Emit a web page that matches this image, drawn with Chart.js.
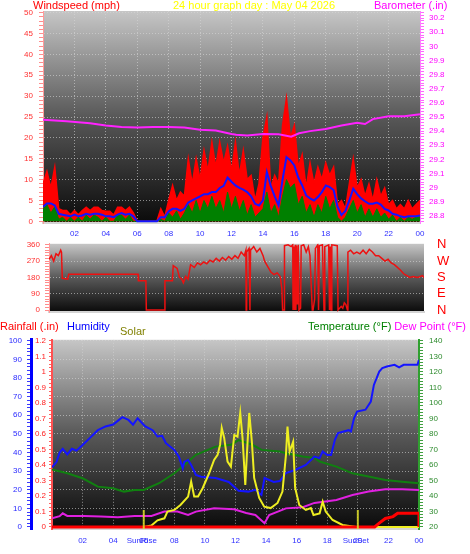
<!DOCTYPE html>
<html lang="en">
<head>
<meta charset="utf-8">
<title>24 hour graph</title>
<script src="https://cdn.jsdelivr.net/npm/chart.js@4.4.1/dist/chart.umd.min.js"></script>
<style>
  html, body { margin: 0; padding: 0; background: #ffffff; }
  body { position: relative; width: 470px; height: 554px; overflow: hidden; font-family: "Liberation Sans", Arial, sans-serif; }
  .panel { position: absolute; left: 0; width: 470px; }
  .title { position: absolute; font-size: 11px; line-height: 11px; white-space: nowrap; z-index: 2; }
</style>
</head>
<body>
<div class="panel" style="top:0;height:240px"><canvas id="wind-chart"></canvas></div>
<div class="panel" style="top:234px;height:88px"><canvas id="dir-chart"></canvas></div>
<div class="panel" style="top:329px;height:225px"><canvas id="weather-chart"></canvas></div>

<div class="title" style="left:33px;top:0;color:#ff0000">Windspeed (mph)</div>
<div class="title" style="left:173px;top:0;color:#ffff00">24 hour graph day : May 04 2026</div>
<div class="title" style="left:374px;top:0;color:#ff00ff">Barometer (.in)</div>
<div class="title" style="left:0;top:321px;color:#ff0000">Rainfall (.in)</div>
<div class="title" style="left:67px;top:321px;color:#0000ff">Humidity</div>
<div class="title" style="left:120px;top:326px;color:#808000">Solar</div>
<div class="title" style="right:4px;top:321px;color:#008000">Temperature (°F) <span style="color:#ff00ff">Dew Point (°F)</span></div>

<script>
// ---- data ----

// x axis
const hourTicks = [0, 2, 4, 6, 8, 10, 12, 14, 16, 18, 20, 22, 24];
const hourLabels = ['', '02', '04', '06', '08', '10', '12', '14', '16', '18', '20', '22', '00'];

// wind, one sample every 15 minutes from 00:00 to 24:00
const gustMph = [
    9, 12, 8, 13, 3, 2.6, 2.6, 1.6, 2.6, 1.6, 2.6, 3.4, 2.6, 3.4, 3.4, 2.6,
    2.4, 2.4, 1.5, 3.4, 3.4, 2.6, 3.4, 2, 0, 0, 0, 0, 0, 0, 3, 1,
    5, 8.6, 5, 7, 6, 15, 9, 15, 10, 17, 12, 19, 13, 19, 14, 18,
    12, 19, 11, 17, 10, 11, 5, 9, 20, 25, 8, 11, 9, 23, 29.5, 20,
    23, 13, 16, 8, 14, 9, 13, 10, 14, 11, 13, 4, 5, 3, 9, 15,
    8, 10, 6, 9, 5, 10, 6, 8, 4, 5, 3, 4, 3, 5, 3, 4, 5
];
const avgMph = [
    3.5, 4.3, 4.3, 3.8, 1.8, 1.6, 1.4, 1.2, 1.6, 1.2, 1.4, 1.8, 1.6, 1.8, 1.8, 1.6,
    1.2, 1.2, 1, 1.6, 2, 1.6, 1.8, 1.2, 0, 0, 0, 0, 0, 0, 1, 1,
    2.4, 3, 3, 2.5, 3, 4.5, 5, 5.5, 6, 6.5, 6.5, 7, 7, 8, 8.5, 10.5,
    9.5, 8.6, 8, 7.6, 7, 6, 4.2, 3.8, 5, 11.8, 8.5, 6, 3.8, 10, 15.4, 14.6,
    13.4, 10.5, 8.6, 6.2, 5.5, 5, 5.8, 7, 8.6, 8.2, 7.5, 3.5, 1.5, 2.5, 5, 7.8,
    6.5, 5.5, 4.8, 4.2, 4.2, 4.5, 4, 3, 2.6, 1.8, 1.6, 1.2, 1, 1.2, 1.2, 1.2, 1.4
];
const windMph = [
    3, 4, 2, 3.5, 0.5, 1, 0, 1, 0, 1, 0, 1.5, 0.5, 1.5, 1, 0,
    1, 0, 0, 1.5, 1.5, 0.5, 1.5, 0, 0, 0, 0, 0, 0, 0, 0.5, 0,
    2, 1, 2.5, 0.5, 2, 4, 2, 5, 2, 5, 3, 6, 3, 5, 2, 7,
    3, 6, 2.5, 5, 1.5, 4, 1, 2, 3, 7, 2, 4, 1, 6, 10, 8,
    9, 4, 6, 2, 4, 1, 4, 2, 6, 3, 5, 1, 0, 1, 3, 5,
    2, 4, 1, 3, 1, 3, 1, 2, 0.5, 1.5, 0, 1, 0, 1, 0.5, 1, 1
];
const windTimes = gustMph.map((_, i) => i * 0.25);

// barometer
const baroHours = [0, 1.5, 3, 4, 5, 6, 7, 8, 9, 10, 11, 12, 12.3, 13, 14, 15, 15.8, 16.3, 17, 18, 19, 20, 20.5, 21, 22, 23, 24];
const baroInches = [29.48, 29.47, 29.455, 29.44, 29.43, 29.425, 29.43, 29.43, 29.425, 29.41, 29.405, 29.38, 29.375, 29.37,
    29.38, 29.378, 29.36, 29.385, 29.4, 29.415, 29.44, 29.46, 29.45, 29.485, 29.505, 29.505, 29.52];

// wind direction
const dirHours = [0, 0.15, 0.3, 0.45, 0.6, 0.75, 0.8, 0.85, 1.2, 1.26, 5.7, 5.72, 6.2, 6.23, 7.4, 7.42, 7.9, 7.95,
    8.2, 8.35, 8.5, 8.6, 8.75, 8.9, 9.06, 9.3, 9.5, 9.7, 9.9, 10.1, 10.3, 10.5, 10.7, 10.9, 11.1, 11.3, 11.5, 11.7,
    11.9, 12.1, 12.3, 12.5, 12.6, 12.62, 12.65, 12.8, 12.86, 12.9, 13.1, 13.3, 13.5, 13.7, 13.8, 14, 14.2, 14.4,
    14.6, 14.8, 14.9, 14.95, 15.05, 15.07, 15.3, 15.5, 15.6, 15.62, 15.68, 15.72, 15.76, 15.8, 15.84, 15.9, 15.95,
    16, 16.1, 16.14, 16.3, 16.46, 16.6, 16.7, 16.85, 16.9, 17, 17.05, 17.2, 17.25, 17.3, 17.5, 17.6, 17.65, 17.9,
    17.95, 18, 18.05, 18.1, 18.45, 18.5, 18.7, 18.8, 18.9, 19, 19.1, 19.13, 19.3, 19.5, 19.7, 19.9, 20.1, 20.3,
    20.5, 20.7, 20.9, 21.1, 21.3, 21.5, 21.7, 21.9, 22.1, 22.3, 22.5, 22.7, 22.9, 23.1, 23.3, 23.6, 23.9, 24];
const dirDegrees = [280, 300, 270, 310, 300, 330, 320, 175, 170, 197, 197, 162, 162, 0, 0, 162, 162, 245,
    230, 180, 170, 150, 185, 170, 250, 235, 260, 250, 265, 255, 275, 265, 285, 270, 290, 275, 295, 280,
    300, 285, 320, 300, 330, 0, 320, 340, 0, 330, 350, 320, 340, 300, 270, 240, 210, 195,
    205, 185, 120, 0, 0, 355, 360, 350, 360, 0, 350, 0, 360, 0, 355, 30, 360,
    0, 10, 355, 360, 320, 350, 300, 0, 0, 60, 340, 360, 0, 355, 360, 0, 350, 360,
    0, 350, 0, 360, 355, 0, 20, 10, 40, 30, 0, 320, 330, 310, 320, 310, 330, 310,
    335, 320, 300, 300, 285, 270, 280, 260, 250, 235, 220, 200, 190, 180, 185, 180, 190, 180];
const compassTicks = [0, 90, 180, 270, 360];
const compassLabels = ['N', 'E', 'S', 'W', 'N'];

// humidity, temperature, dew point, solar, rain
const humHours = [0, 0.3, 0.5, 0.7, 1, 1.3, 1.6, 2, 2.5, 3, 3.5, 4, 4.3, 4.6, 5, 5.3, 5.6, 5.9, 6.1, 6.58,
    6.9, 7.2, 7.45, 8, 8.3, 8.55, 8.65, 8.9, 9.1, 9.41, 9.75, 10.7, 11.56, 12.2, 12.85, 13.3, 13.7, 13.9, 14.5, 14.9,
    15.3, 15.9, 16.6, 17.16, 17.5, 17.7, 18, 18.25, 18.5, 18.7, 19.4, 19.55, 19.75, 19.95, 20.5, 20.85, 21.05, 21.4, 21.6, 21.9,
    22.4, 22.7, 23, 23.9, 24];
const humPercent = [32, 35, 40, 42, 39, 42, 41, 44, 48, 52, 54, 55, 57, 59, 57.5, 55, 58.4, 55.7, 54, 52,
    48.6, 49, 45, 41.4, 37.8, 31.5, 35, 36, 33.3, 28, 27, 26.3, 24.2, 19.5, 19, 20, 17.2, 26.3, 24.2, 24.7,
    29, 30.6, 33.3, 37.8, 37, 40.5, 38.7, 38.7, 46.8, 50.4, 52, 51.3, 58.4, 62, 63, 67.4, 76.3, 83.5, 85.3, 86.2,
    87.1, 85.7, 87.1, 87.1, 89.8];

const tempHours = [0, 1, 2, 3, 4, 4.7, 5.4, 6, 7, 8, 8.65, 9.41, 10.7, 11.7, 12.2, 13.1, 13.7, 14.9, 15.3, 16.4,
    17.16, 17.5, 18.6, 19.65, 20.7, 21.8, 22.9, 24];
const tempF = [57, 54.6, 51.4, 46, 45, 42.8, 43.9, 43.9, 48.2, 54.6, 60, 66.5, 71.8, 73, 76, 73, 69.7, 68.6, 67.5, 65.4,
    64.5, 62.2, 58.9, 54.6, 52.5, 50.3, 49.2, 48.2];

const dewHours = [0, 0.5, 0.7, 1, 2.1, 3.2, 4.3, 5.4, 6.5, 7.35, 8.2, 8.9, 9.41, 10.6, 11.9, 12.7, 13.3, 13.9, 14.2, 15.3,
    16.4, 17.16, 18.6, 19.65, 20.7, 21.8, 22.9, 24];
const dewF = [25.6, 27, 28.8, 27.1, 27.1, 26.7, 26.2, 27.1, 27.1, 29.9, 29.9, 27.7, 29.9, 32, 31.4, 29, 27.7, 22.4, 27.7, 32,
    32.7, 35.5, 37.4, 40.6, 42.8, 44.3, 44.3, 43.9];

const solarHours = [0, 6, 6.5, 6.9, 7.35, 7.55, 8, 8.4, 8.9, 9.1, 9.3, 9.55, 9.85, 10.28, 10.6, 10.83, 10.99, 11.1, 11.26, 11.48,
    11.7, 11.92, 12.13, 12.31, 12.46, 12.64, 12.79, 12.9, 13.07, 13.22, 13.55, 13.88, 14.3, 14.75, 15.07, 15.3, 15.4, 15.54, 15.77, 15.9,
    16.17, 16.6, 16.93, 17.1, 17.5, 17.7, 17.9, 18.35, 19, 19.9, 24];
const solarWm2 = [0, 0, 10, 43, 56, 99, 110, 142, 196, 293, 196, 196, 250, 348, 432, 465, 529, 639, 574, 421,
    389, 593, 582, 735, 574, 271, 550, 735, 550, 316, 187, 131, 122, 155, 228, 465, 647, 486, 550, 252,
    142, 110, 122, 77, 88, 163, 99, 45, 13, 0, 0];

const rainHours = [0, 21.1, 21.4, 21.8, 22.3, 22.6, 24, 24];
const rainInches = [0, 0, 0.025, 0.055, 0.067, 0.088, 0.088, 0];

const sunriseHour = 6;
const sunsetHour = 20;

// ---- helpers ----
const GRID = 'rgba(215, 215, 215, 0.6)';
const TICK_FONT = { family: '"Liberation Sans", Arial, sans-serif', size: 8 };

const pts = (xs, ys) => xs.map((x, i) => ({ x: x, y: ys[i] }));
const isMultiple = (v, m) => Math.abs(v / m - Math.round(v / m)) < 1e-6;

function stepTicks(from, to, step) {
    const ticks = [];
    for (let v = from; v <= to + step / 100; v += step) {
        ticks.push({ value: Math.round(v * 1000) / 1000 });
    }
    return ticks;
}

// dark-to-light plot background, like the original station graph
Chart.register({
    id: 'plotBackground',
    beforeDraw(chart) {
        const { ctx, chartArea: a } = chart;
        const g = ctx.createLinearGradient(0, a.top, 0, a.bottom);
        g.addColorStop(0, '#c6c6c6');
        g.addColorStop(0.5, '#585858');
        g.addColorStop(1, '#0a0a0a');
        ctx.save();
        ctx.fillStyle = g;
        ctx.fillRect(a.left, a.top, a.right - a.left, a.bottom - a.top);
        ctx.restore();
    }
});

Chart.defaults.animation = false;
Chart.defaults.events = [];
Chart.defaults.maintainAspectRatio = false;
Chart.defaults.elements.point.radius = 0;
Chart.defaults.elements.line.tension = 0;
Chart.defaults.plugins.legend.display = false;
Chart.defaults.plugins.tooltip.enabled = false;

function hourAxis(height, padding, showLabels) {
    return {
        type: 'linear',
        min: 0,
        max: 24,
        afterBuildTicks: s => { s.ticks = hourTicks.map(v => ({ value: v })); },
        afterFit: s => { s.height = height; },
        grid: { display: showLabels, color: GRID, drawTicks: false },
        border: { color: '#d4d4d4', width: 2, dash: [1, 2] },
        ticks: {
            display: showLabels,
            color: '#3030ff',
            font: TICK_FONT,
            padding: padding,
            maxRotation: 0,
            autoSkip: false,
            callback: (v, i) => hourLabels[i]
        }
    };
}

/**
 * Wind speed + barometer
 */
function renderWindChart() {
    new Chart(document.getElementById('wind-chart'), {
        type: 'line',
        data: {
            datasets: [
                { data: pts(baroHours, baroInches), yAxisID: 'baro', borderColor: '#ff22ff', borderWidth: 2, order: 1 },
                { data: pts(windTimes, avgMph), yAxisID: 'wind', borderColor: '#1414ff', borderWidth: 2, order: 2 },
                { data: pts(windTimes, windMph), yAxisID: 'wind', borderColor: '#008000', backgroundColor: '#008000', fill: 'origin', borderWidth: 1, order: 3 },
                { data: pts(windTimes, gustMph), yAxisID: 'wind', borderColor: '#ff0000', backgroundColor: '#ff0000', fill: 'origin', borderWidth: 1.5, order: 4 }
            ]
        },
        options: {
            layout: { padding: { top: 11 } },
            scales: {
                x: hourAxis(17, 6, true),
                wind: {
                    position: 'left',
                    min: -0.4,
                    max: 50.4,
                    afterBuildTicks: s => { s.ticks = stepTicks(0, 50, 1); },
                    afterFit: s => { s.width = 43; },
                    grid: { color: c => isMultiple(c.tick.value, 5) ? GRID : 'transparent', tickColor: '#ff8c8c', tickLength: 4 },
                    border: { color: '#ff9a9a', width: 1, dash: [1, 2] },
                    ticks: { color: '#ff3030', font: TICK_FONT, padding: 6, autoSkip: false, callback: v => isMultiple(v, 5) ? String(v) : '' }
                },
                baro: {
                    position: 'right',
                    min: 28.75,
                    max: 30.25,
                    afterBuildTicks: s => { s.ticks = stepTicks(28.76, 30.24, 0.02); },
                    afterFit: s => { s.width = 50; },
                    grid: { drawOnChartArea: false, tickColor: '#ff66ff', tickLength: 4 },
                    border: { color: '#ff80ff', width: 1 },
                    ticks: { color: '#ff00ff', font: TICK_FONT, padding: 5, autoSkip: false, callback: v => isMultiple(v, 0.1) ? String(Math.round(v * 10) / 10) : '' }
                }
            }
        }
    });
}

/**
 * Wind direction
 */
function renderDirectionChart() {
    new Chart(document.getElementById('dir-chart'), {
        type: 'line',
        data: {
            datasets: [
                { data: pts(dirHours, dirDegrees), yAxisID: 'dir', borderColor: '#ee1010', borderWidth: 1.5 }
            ]
        },
        options: {
            scales: {
                x: hourAxis(10, 0, false),
                dir: {
                    position: 'left',
                    min: -11,
                    max: 365.5,
                    afterBuildTicks: s => { s.ticks = stepTicks(0, 360, 15); },
                    afterFit: s => { s.width = 49; },
                    grid: { color: c => (isMultiple(c.tick.value, 90) && c.tick.value > 0 && c.tick.value < 360) ? GRID : 'transparent', tickColor: '#ff8c8c', tickLength: 4 },
                    border: { color: '#ff9a9a', width: 1, dash: [1, 2] },
                    ticks: { color: '#ff3030', font: TICK_FONT, padding: 5, autoSkip: false, callback: v => isMultiple(v, 90) ? String(v) : '' }
                },
                compass: {
                    position: 'right',
                    min: -11,
                    max: 365.5,
                    afterBuildTicks: s => { s.ticks = compassTicks.map(v => ({ value: v })); },
                    afterFit: s => { s.width = 46; },
                    // long transparent tick marks push the letters away from the plot
                    grid: { drawOnChartArea: false, tickColor: 'transparent', tickLength: 13 },
                    border: { display: false },
                    ticks: { color: '#ff0000', font: { family: TICK_FONT.family, size: 13 }, padding: 0, autoSkip: false, callback: (v, i) => compassLabels[i] }
                }
            }
        }
    });
}

/**
 * Humidity, temperature, dew point, solar and rain
 */
const sunMarkers = {
    id: 'sunMarkers',
    afterDatasetsDraw(chart) {
        const { ctx, chartArea: a, scales: { x } } = chart;
        ctx.save();
        [[sunriseHour, 'SunRise'], [sunsetHour, 'SunSet']].forEach(([h, text]) => {
            const px = x.getPixelForValue(h);
            ctx.strokeStyle = 'rgba(225, 225, 40, 0.85)';
            ctx.lineWidth = 2;
            ctx.beginPath();
            ctx.moveTo(px, a.bottom - 19);
            ctx.lineTo(px, a.bottom);
            ctx.stroke();
            ctx.fillStyle = '#3030ff';
            ctx.font = '8px "Liberation Sans", Arial, sans-serif';
            ctx.textAlign = 'center';
            ctx.textBaseline = 'middle';
            ctx.fillText(text, px - 2, a.bottom + 12);
        });
        ctx.restore();
    }
};

function renderWeatherChart() {
    new Chart(document.getElementById('weather-chart'), {
        type: 'line',
        data: {
            datasets: [
                { data: pts(rainHours, rainInches), yAxisID: 'rain', borderColor: '#ff0000', borderWidth: 3, order: 1 },
                { data: pts(solarHours, solarWm2), yAxisID: 'solar', borderColor: '#eeee22', borderWidth: 2, order: 2 },
                { data: pts(dewHours, dewF), yAxisID: 'temp', borderColor: '#e020e0', borderWidth: 2, order: 3 },
                { data: pts(humHours, humPercent), yAxisID: 'hum', borderColor: '#1414ff', borderWidth: 2, order: 4 },
                { data: pts(tempHours, tempF), yAxisID: 'temp', borderColor: '#108010', borderWidth: 2, order: 5 }
            ]
        },
        options: {
            scales: {
                x: hourAxis(25, 7, true),
                hum: {
                    position: 'left',
                    weight: 1,
                    min: -1.08,
                    max: 100.54,
                    afterBuildTicks: s => { s.ticks = stepTicks(0, 100, 2); },
                    afterFit: s => { s.width = 31; },
                    grid: { color: c => isMultiple(c.tick.value, 10) ? GRID : 'transparent', tickColor: '#3a3aff', tickLength: 4 },
                    border: { color: '#0000ff', width: 3, dash: [1, 2] },
                    ticks: { color: '#2828ff', font: TICK_FONT, padding: 5, autoSkip: false, callback: v => isMultiple(v, 10) ? String(v) : '' }
                },
                rain: {
                    position: 'left',
                    weight: 0,
                    min: -0.013,
                    max: 1.2065,
                    afterBuildTicks: s => { s.ticks = stepTicks(0, 1.2, 0.025); },
                    afterFit: s => { s.width = 21; },
                    grid: { drawOnChartArea: false, tickColor: '#ff6060', tickLength: 3 },
                    border: { color: '#ff5050', width: 2 },
                    ticks: { color: '#ff2020', font: TICK_FONT, padding: 3, autoSkip: false, callback: v => isMultiple(v, 0.1) ? String(Math.round(v * 10) / 10) : '' }
                },
                temp: {
                    position: 'right',
                    min: 18.7,
                    max: 140.65,
                    afterBuildTicks: s => { s.ticks = stepTicks(20, 140, 2); },
                    afterFit: s => { s.width = 51; },
                    grid: { drawOnChartArea: false, tickColor: '#40a040', tickLength: 4 },
                    border: { color: '#30a030', width: 2 },
                    ticks: { color: '#2e8b2e', font: TICK_FONT, padding: 6, autoSkip: false, callback: v => isMultiple(v, 10) ? String(v) : '' }
                },
                solar: { display: false, min: -12.9, max: 1206.5 }
            }
        },
        plugins: [sunMarkers]
    });
}

renderWindChart();
renderDirectionChart();
renderWeatherChart();
</script>
</body>
</html>
